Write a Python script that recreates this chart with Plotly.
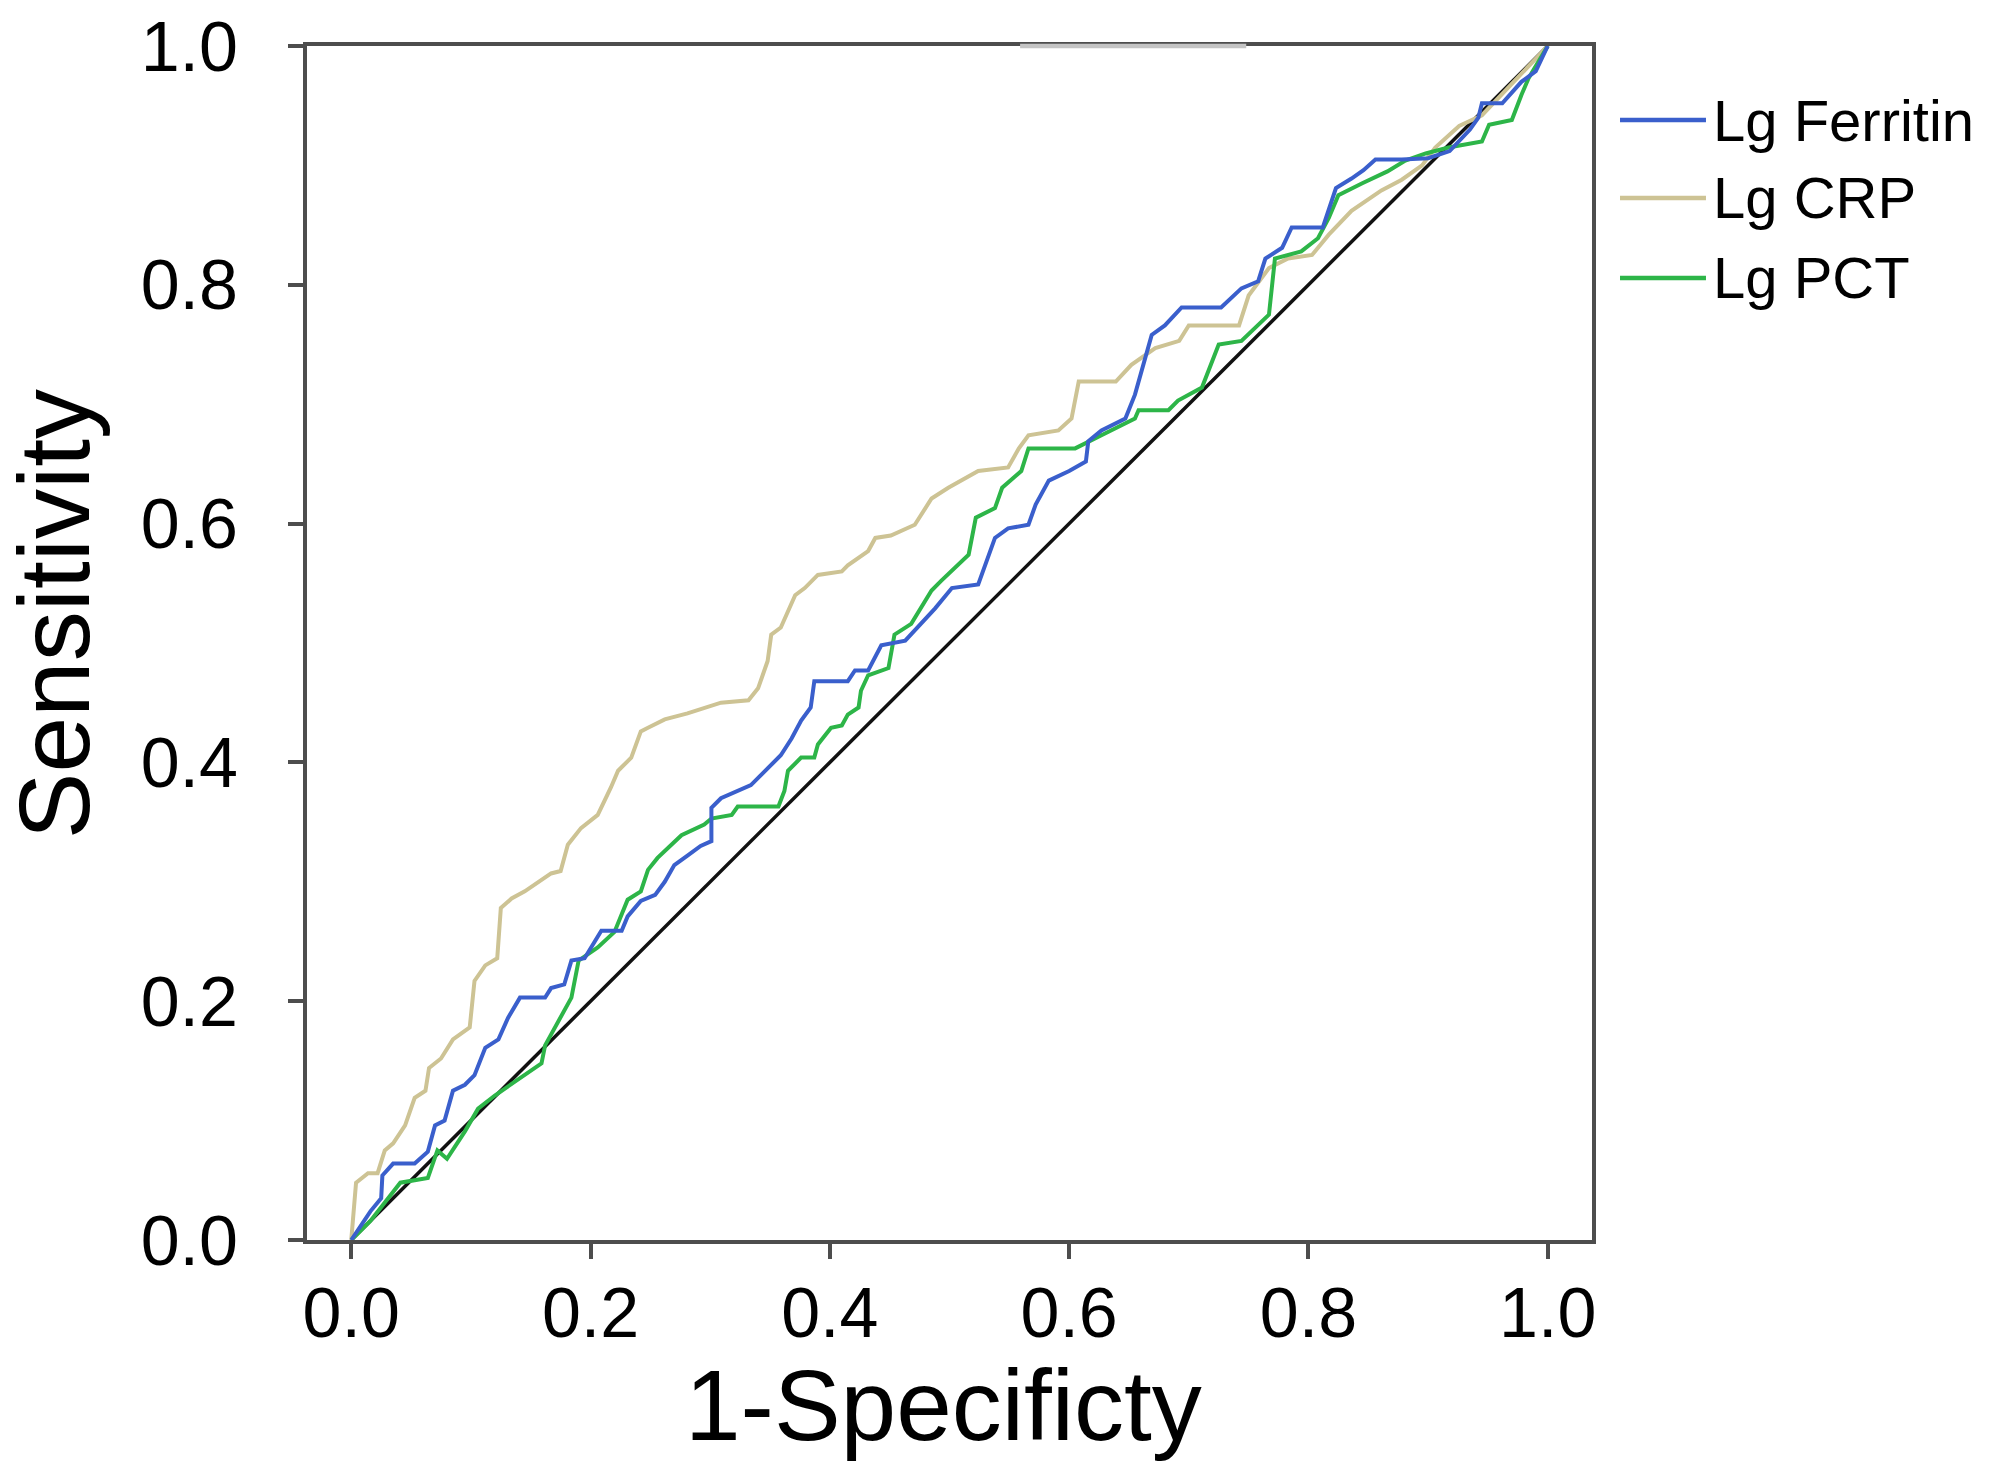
import plotly.graph_objects as go

# ---- data ----
ferritin_x = [0.000, 0.016, 0.025, 0.026, 0.035, 0.053, 0.064, 0.070, 0.078, 0.085,
              0.095, 0.103, 0.112, 0.123, 0.131, 0.141, 0.162, 0.167, 0.178, 0.184,
              0.195, 0.209, 0.226, 0.231, 0.242, 0.254, 0.262, 0.270, 0.281, 0.292,
              0.301, 0.301, 0.309, 0.323, 0.334, 0.343, 0.351, 0.359, 0.368, 0.376,
              0.384, 0.387, 0.415, 0.421, 0.432, 0.443, 0.463, 0.488, 0.502, 0.524,
              0.538, 0.549, 0.566, 0.572, 0.583, 0.600, 0.614, 0.616, 0.627, 0.647,
              0.655, 0.664, 0.669, 0.680, 0.694, 0.727, 0.744, 0.758, 0.764, 0.778,
              0.786, 0.812, 0.823, 0.836, 0.846, 0.856, 0.878, 0.900, 0.918, 0.935,
              0.942, 0.945, 0.962, 0.978, 0.990, 1.000]
ferritin_y = [0.000, 0.024, 0.035, 0.054, 0.064, 0.064, 0.074, 0.096, 0.100, 0.125,
              0.130, 0.138, 0.161, 0.168, 0.186, 0.203, 0.203, 0.211, 0.214, 0.234,
              0.236, 0.259, 0.259, 0.271, 0.284, 0.289, 0.300, 0.314, 0.322, 0.330,
              0.334, 0.362, 0.370, 0.376, 0.381, 0.390, 0.398, 0.406, 0.420, 0.435,
              0.446, 0.468, 0.468, 0.477, 0.477, 0.498, 0.502, 0.529, 0.546, 0.549,
              0.588, 0.596, 0.599, 0.616, 0.636, 0.644, 0.652, 0.669, 0.678, 0.688,
              0.708, 0.739, 0.758, 0.766, 0.781, 0.781, 0.797, 0.803, 0.822, 0.831,
              0.848, 0.848, 0.881, 0.889, 0.896, 0.905, 0.905, 0.906, 0.912, 0.930,
              0.940, 0.952, 0.952, 0.970, 0.979, 1.000]

crp_x = [0.000, 0.002, 0.004, 0.014, 0.022, 0.028, 0.035, 0.045, 0.053, 0.062,
         0.065, 0.075, 0.085, 0.099, 0.103, 0.112, 0.122, 0.125, 0.134, 0.145,
         0.156, 0.167, 0.175, 0.181, 0.192, 0.206, 0.217, 0.223, 0.234, 0.242,
         0.248, 0.262, 0.281, 0.290, 0.309, 0.332, 0.340, 0.348, 0.351, 0.359,
         0.371, 0.379, 0.390, 0.410, 0.415, 0.432, 0.438, 0.451, 0.471, 0.485,
         0.499, 0.524, 0.549, 0.558, 0.566, 0.591, 0.602, 0.608, 0.639, 0.652,
         0.672, 0.692, 0.700, 0.742, 0.750, 0.767, 0.783, 0.803, 0.817, 0.836,
         0.861, 0.878, 0.895, 0.906, 0.926, 0.945, 0.967, 0.985, 1.000]
crp_y = [0.000, 0.020, 0.048, 0.056, 0.056, 0.075, 0.081, 0.096, 0.119, 0.125,
         0.144, 0.152, 0.168, 0.178, 0.217, 0.230, 0.236, 0.278, 0.286, 0.292,
         0.300, 0.307, 0.309, 0.331, 0.345, 0.356, 0.379, 0.393, 0.404, 0.426,
         0.429, 0.436, 0.441, 0.444, 0.450, 0.452, 0.462, 0.485, 0.507, 0.513,
         0.540, 0.546, 0.557, 0.560, 0.565, 0.577, 0.588, 0.590, 0.599, 0.621,
         0.630, 0.644, 0.647, 0.663, 0.674, 0.678, 0.688, 0.719, 0.719, 0.733,
         0.747, 0.753, 0.766, 0.766, 0.791, 0.814, 0.822, 0.825, 0.842, 0.862,
         0.879, 0.888, 0.900, 0.915, 0.933, 0.942, 0.965, 0.985, 1.000]

pct_x = [0.000, 0.016, 0.041, 0.064, 0.072, 0.080, 0.095, 0.106, 0.120, 0.145,
         0.159, 0.162, 0.184, 0.190, 0.206, 0.220, 0.231, 0.242, 0.248, 0.256,
         0.276, 0.295, 0.301, 0.318, 0.323, 0.357, 0.362, 0.365, 0.376, 0.387,
         0.390, 0.401, 0.410, 0.415, 0.424, 0.426, 0.432, 0.449, 0.454, 0.468,
         0.485, 0.493, 0.516, 0.522, 0.538, 0.544, 0.560, 0.566, 0.605, 0.627,
         0.655, 0.658, 0.683, 0.691, 0.711, 0.725, 0.744, 0.767, 0.772, 0.794,
         0.808, 0.817, 0.825, 0.845, 0.866, 0.881, 0.898, 0.917, 0.945, 0.951,
         0.970, 0.978, 0.984, 1.000]
pct_y = [0.000, 0.016, 0.048, 0.052, 0.075, 0.068, 0.091, 0.110, 0.121, 0.138,
         0.148, 0.163, 0.203, 0.234, 0.245, 0.258, 0.285, 0.292, 0.310, 0.320,
         0.339, 0.348, 0.353, 0.356, 0.363, 0.363, 0.376, 0.393, 0.404, 0.404,
         0.415, 0.429, 0.431, 0.440, 0.446, 0.460, 0.473, 0.479, 0.507, 0.516,
         0.544, 0.552, 0.574, 0.605, 0.613, 0.630, 0.644, 0.663, 0.663, 0.674,
         0.688, 0.695, 0.695, 0.703, 0.714, 0.750, 0.753, 0.775, 0.822, 0.828,
         0.839, 0.856, 0.875, 0.885, 0.895, 0.904, 0.910, 0.915, 0.920, 0.934,
         0.938, 0.959, 0.973, 1.000]

diag_x = [0.0, 1.0]
diag_y = [0.0, 1.0]

series_names = ["Lg Ferritin", "Lg CRP", "Lg PCT"]
series_colors = ["#3a5fcc", "#cdc394", "#2db548"]
tick_vals = [0.0, 0.2, 0.4, 0.6, 0.8, 1.0]
tick_text = ["0.0", "0.2", "0.4", "0.6", "0.8", "1.0"]

FONT = "Liberation Sans, Arial, Helvetica, sans-serif"
AXIS_COLOR = "#4d4d4d"

fig = go.Figure()
fig.add_trace(go.Scatter(x=diag_x, y=diag_y, mode="lines",
                         line=dict(color="#111111", width=3.5),
                         showlegend=False, hoverinfo="skip"))
for xs, ys, name, col in [(crp_x, crp_y, series_names[1], series_colors[1]),
                          (pct_x, pct_y, series_names[2], series_colors[2]),
                          (ferritin_x, ferritin_y, series_names[0], series_colors[0])]:
    fig.add_trace(go.Scatter(x=xs, y=ys, mode="lines", name=name,
                             line=dict(color=col, width=4),
                             showlegend=False))

# manual legend (long line samples as in the reference)
leg_y = [0.938, 0.8727, 0.8057]
shapes = []
annotations = []
for name, col, yy in zip(series_names, series_colors, leg_y):
    shapes.append(dict(type="line", xref="paper", yref="paper",
                       x0=1.0218, x1=1.0887, y0=yy, y1=yy,
                       line=dict(color=col, width=4.5)))
    annotations.append(dict(text=name, xref="paper", yref="paper",
                            x=1.0925, y=yy, xanchor="left", yanchor="middle",
                            showarrow=False,
                            font=dict(family=FONT, size=58, color="black")))

# light segment on the top frame (scan artifact in reference)
shapes.append(dict(type="line", xref="x", yref="paper", x0=0.559, x1=0.748,
                   y0=1, y1=1, line=dict(color="#c4c4c4", width=4.5)))

annotations.append(dict(text="1-Specificty", xref="paper", yref="paper",
                        x=0.495, y=-0.138, xanchor="center", yanchor="middle",
                        showarrow=False,
                        font=dict(family=FONT, size=100, color="black")))
annotations.append(dict(text="Sensitivity", xref="paper", yref="paper",
                        x=-0.197, y=0.524, xanchor="center", yanchor="middle",
                        textangle=-90, showarrow=False,
                        font=dict(family=FONT, size=100, color="black")))

fig.update_layout(
    width=1995, height=1476,
    margin=dict(l=299, r=411, t=38, b=244, pad=0, autoexpand=False),
    paper_bgcolor="white", plot_bgcolor="white",
    shapes=shapes, annotations=annotations,
    font=dict(family=FONT, color="black"),
)
common = dict(showgrid=False, zeroline=False, showline=True, mirror=True,
              linecolor=AXIS_COLOR, linewidth=4, ticks="outside", ticklen=15,
              tickwidth=4, tickcolor=AXIS_COLOR,
              tickvals=tick_vals, ticktext=tick_text,
              ticklabeloverflow="allow", automargin=False,
              tickfont=dict(family=FONT, size=70, color="black"))
fig.update_xaxes(range=[-0.037, 1.037], ticklabelstandoff=-6, **common)
fig.update_yaxes(range=[0, 1], ticklabelstandoff=36, **common)

fig.write_html("out.html")
